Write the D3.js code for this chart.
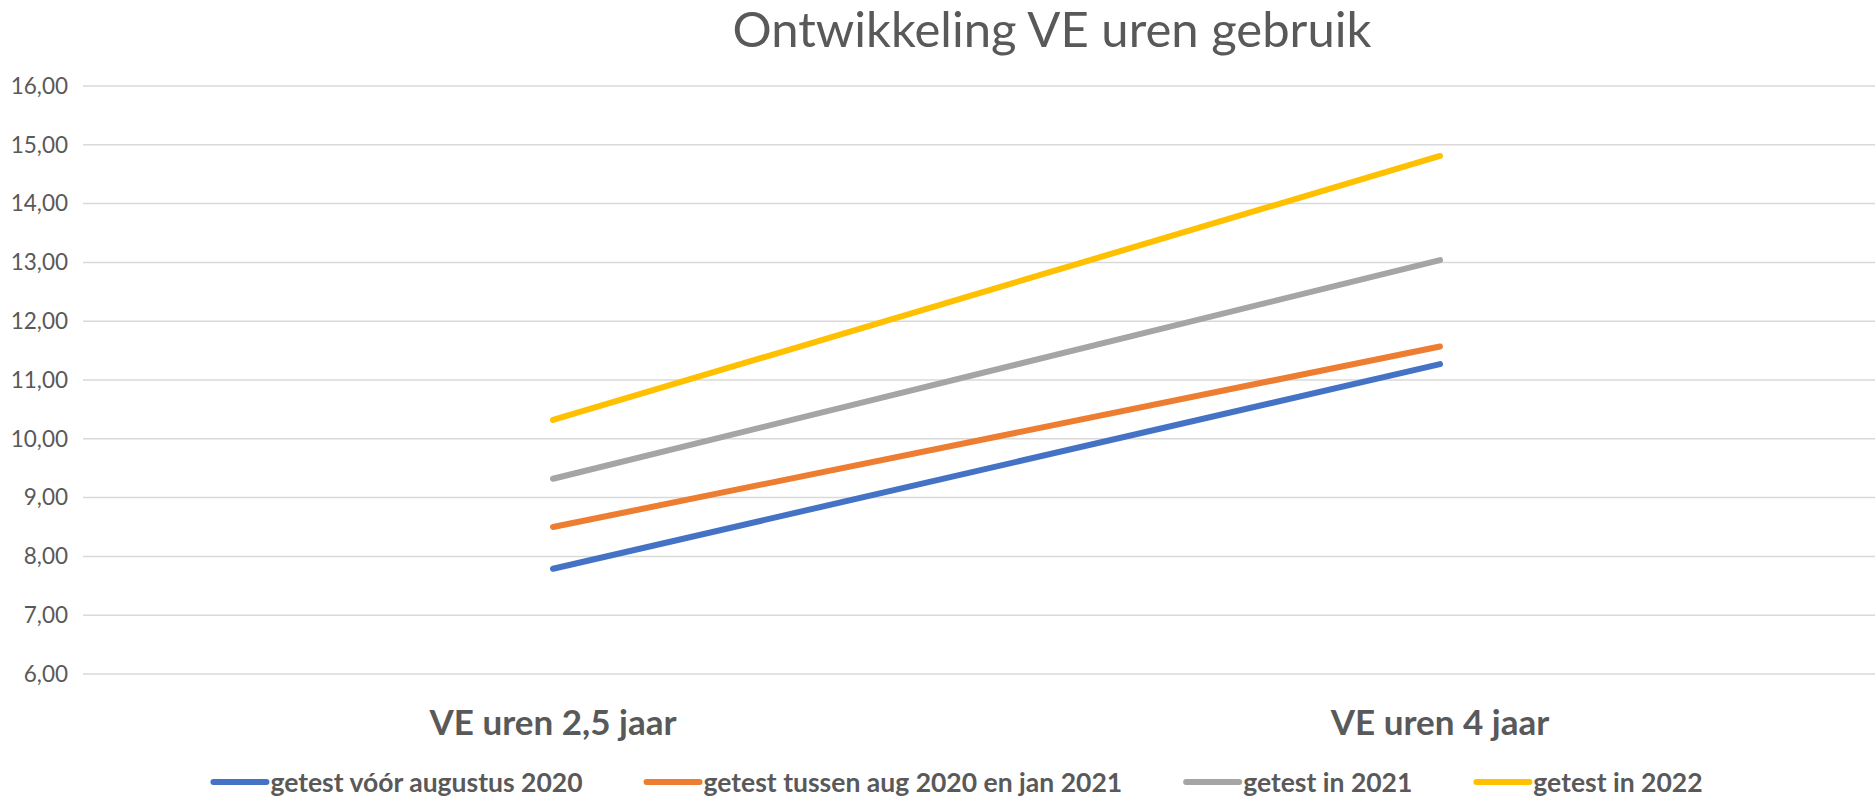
<!DOCTYPE html>
<html lang="nl">
<head>
<meta charset="UTF-8" />
<title>Ontwikkeling VE uren gebruik</title>
<script src="https://cdnjs.cloudflare.com/ajax/libs/d3/7.8.5/d3.min.js"></script>
<style>
  * { margin: 0; padding: 0; box-sizing: border-box; }
  body { background: #fff; width: 1875px; height: 800px; overflow: hidden; }
  svg { display: block; font-family: Lato, 'Open Sans', sans-serif; }
</style>
</head>
<body>
<svg id="chart" width="1875" height="800"></svg>
<script>
  // data
  const categories = ["VE uren 2,5 jaar", "VE uren 4 jaar"];
  const seriesNames = [
    "getest vóór augustus 2020",
    "getest tussen aug 2020 en jan 2021",
    "getest in 2021",
    "getest in 2022"
  ];
  const blueValues = [7.79, 11.27];
  const orangeValues = [8.50, 11.57];
  const greyValues = [9.32, 13.04];
  const yellowValues = [10.32, 14.81];
  const yTicks = [6, 7, 8, 9, 10, 11, 12, 13, 14, 15, 16];

  const colors = ["#4472C4", "#ED7D31", "#A5A5A5", "#FFC000"];
  const series = [blueValues, orangeValues, greyValues, yellowValues].map((v, i) => ({
    name: seriesNames[i], values: v, color: colors[i]
  }));

  const svg = d3.select("#chart");
  const plotLeft = 83, plotRight = 1875, plotTop = 86, plotBottom = 674;

  const x = d3.scalePoint().domain(categories).range([553, 1440]);
  const y = d3.scaleLinear().domain([6, 16]).range([plotBottom, plotTop]);

  // title
  svg.append("text")
    .attr("x", 1052).attr("y", 47)
    .attr("text-anchor", "middle")
    .attr("font-size", 49)
    .attr("fill", "#595959")
    .text("Ontwikkeling VE uren gebruik");

  // gridlines
  svg.append("g").selectAll("line")
    .data(yTicks).enter().append("line")
    .attr("x1", plotLeft).attr("x2", plotRight)
    .attr("y1", d => y(d)).attr("y2", d => y(d))
    .attr("stroke", "#D9D9D9").attr("stroke-width", 1.5);

  // y labels
  const fmt = d => d3.format(".2f")(d).replace(".", ",");
  svg.append("g").selectAll("text")
    .data(yTicks).enter().append("text")
    .attr("x", 68).attr("y", d => y(d))
    .attr("dy", "0.35em")
    .attr("text-anchor", "end")
    .attr("font-size", 22.5)
    .attr("fill", "#595959")
    .text(fmt);

  // category labels
  svg.append("g").selectAll("text")
    .data(categories).enter().append("text")
    .attr("x", d => x(d)).attr("y", 735)
    .attr("text-anchor", "middle")
    .attr("font-size", 35)
    .attr("font-weight", "bold")
    .attr("fill", "#595959")
    .text(d => d);

  // lines
  const line = d3.line()
    .x((d, i) => x(categories[i]))
    .y(d => y(d));

  svg.append("g").selectAll("path")
    .data(series).enter().append("path")
    .attr("d", d => line(d.values))
    .attr("fill", "none")
    .attr("stroke", d => d.color)
    .attr("stroke-width", 6)
    .attr("stroke-linecap", "round");

  // legend
  const legend = svg.append("g");
  const symW = 53, symGap = 4, itemGap = 64, legY = 783;
  const items = legend.selectAll("g").data(series).enter().append("g");
  items.append("line")
    .attr("x1", 0).attr("x2", symW)
    .attr("y1", legY - 1).attr("y2", legY - 1)
    .attr("stroke", d => d.color)
    .attr("stroke-width", 6)
    .attr("stroke-linecap", "round");
  items.append("text")
    .attr("x", symW + symGap).attr("y", legY)
    .attr("dy", "0.35em")
    .attr("font-size", 26.5)
    .attr("font-weight", "bold")
    .attr("fill", "#595959")
    .text(d => d.name);

  let offs = [], pos = 0;
  items.each(function() {
    offs.push(pos);
    pos += this.getBBox().width + itemGap;
  });
  const total = pos - itemGap;
  const start = 958 - total / 2;
  items.attr("transform", (d, i) => `translate(${start + offs[i]},0)`);
</script>
</body>
</html>
